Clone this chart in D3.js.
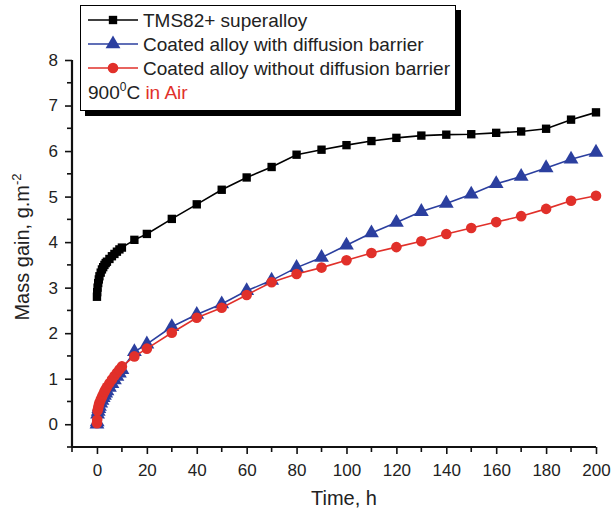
<!DOCTYPE html>
<html>
<head>
<meta charset="utf-8">
<script src="https://cdn.jsdelivr.net/npm/d3@7"></script>
<style>
  body { margin: 0; background: #fff; }
  text { font-family: "Liberation Sans", Arial, sans-serif; fill: #222; }
</style>
</head>
<body>
<div id="chart"></div>
<script>
// data
var hours = [0, 0.1, 0.25, 0.5, 0.75, 1, 1.5, 2, 2.5, 3, 3.5, 4, 5, 6, 7, 8, 9, 10, 15, 20,
             30, 40, 50, 60, 70, 80, 90, 100, 110, 120, 130, 140, 150, 160, 170, 180, 190, 200];
var superalloy = [2.80, 2.90, 3.00, 3.10, 3.18, 3.25, 3.33, 3.40, 3.45, 3.50, 3.54, 3.57, 3.63, 3.69, 3.74, 3.79, 3.84, 3.88, 4.05, 4.18,
                  4.51, 4.83, 5.15, 5.42, 5.65, 5.92, 6.03, 6.13, 6.22, 6.29, 6.34, 6.36, 6.37, 6.40, 6.43, 6.49, 6.69, 6.85];
var withBarrier = [0.00, 0.05, 0.22, 0.28, 0.34, 0.39, 0.46, 0.52, 0.58, 0.63, 0.68, 0.73, 0.81, 0.89, 0.97, 1.05, 1.12, 1.20, 1.59, 1.76,
                   2.14, 2.41, 2.64, 2.93, 3.16, 3.44, 3.66, 3.93, 4.20, 4.43, 4.67, 4.85, 5.05, 5.28, 5.44, 5.63, 5.82, 5.97];
var withoutBarrier = [0.02, 0.10, 0.30, 0.36, 0.42, 0.47, 0.54, 0.60, 0.66, 0.72, 0.77, 0.82, 0.90, 0.98, 1.06, 1.13, 1.20, 1.27, 1.49, 1.66,
                      2.01, 2.34, 2.56, 2.84, 3.12, 3.30, 3.44, 3.60, 3.76, 3.89, 4.02, 4.18, 4.31, 4.44, 4.57, 4.73, 4.91, 5.02];
var seriesNames = ["TMS82+ superalloy", "Coated alloy with diffusion barrier", "Coated alloy without diffusion barrier"];
var xTicks = [0, 20, 40, 60, 80, 100, 120, 140, 160, 180, 200];
var yTicks = [0, 1, 2, 3, 4, 5, 6, 7, 8];

var w = 612, h = 511;
var m = {top: 60, right: 16, bottom: 64, left: 72};

var svg = d3.select("#chart")
            .append("svg")
            .attr("width", w)
            .attr("height", h);

svg.append("rect").attr("width", w).attr("height", h).attr("fill", "#fff");

// scales
var xScale = d3.scaleLinear()
               .domain([-10, 200])
               .range([m.left, w - m.right]);

var yScale = d3.scaleLinear()
               .domain([-0.5, 8])
               .range([h - m.bottom, m.top]);

// minor ticks
var xMinor = d3.range(-10, 201, 10).filter(function(v){ return v % 20 !== 0; });
var yMinor = d3.range(-0.5, 8, 1);

var xAxis = d3.axisBottom(xScale).tickValues(xTicks).tickSize(7).tickPadding(10).tickFormat(d3.format("d"));
var yAxis = d3.axisLeft(yScale).tickValues(yTicks).tickSize(7).tickPadding(7).tickFormat(d3.format("d"));

var gx = svg.append("g")
   .attr("transform", "translate(0," + yScale(-0.5) + ")")
   .call(xAxis);
gx.selectAll(".tick line").attr("stroke", "#111").attr("stroke-width", 1.6);
gx.append("g").selectAll("line")
   .data(xMinor).enter().append("line")
   .attr("x1", function(d){ return xScale(d); })
   .attr("x2", function(d){ return xScale(d); })
   .attr("y1", 0).attr("y2", 5)
   .attr("stroke", "#111").attr("stroke-width", 1.6);

var gy = svg.append("g")
   .attr("transform", "translate(" + m.left + ",0)")
   .call(yAxis);
gy.selectAll(".tick line").attr("stroke", "#111").attr("stroke-width", 1.6);
gy.append("g").selectAll("line")
   .data(yMinor).enter().append("line")
   .attr("y1", function(d){ return yScale(d); })
   .attr("y2", function(d){ return yScale(d); })
   .attr("x1", 0).attr("x2", -5)
   .attr("stroke", "#111").attr("stroke-width", 1.6);

[gx, gy].forEach(function(g){
  g.select(".domain").attr("stroke", "#111").attr("stroke-width", 2.2);
  g.selectAll(".tick text").attr("font-size", 17).attr("fill", "#222")
   .style("font-family", "'Liberation Sans', Arial, sans-serif");
});
gy.select(".domain").attr("d", "M0," + yScale(-0.5) + "V" + yScale(8));
gx.select(".domain").attr("d", "M" + xScale(-10) + ",0H" + xScale(200));

// axis titles
svg.append("text")
   .attr("x", 344)
   .attr("y", 505)
   .attr("text-anchor", "middle")
   .attr("font-size", 20)
   .text("Time, h");

var yl = svg.append("text")
   .attr("transform", "translate(29,247) rotate(-90)")
   .attr("text-anchor", "middle")
   .attr("font-size", 20);
yl.append("tspan").text("Mass gain, g.m");
yl.append("tspan").attr("font-size", 13).attr("dy", -8).text("-2");

// series
var colors = ["#000000", "#2b3f9f", "#e1302a"];
var allSeries = [superalloy, withBarrier, withoutBarrier];
var shapes = [d3.symbolSquare, d3.symbolTriangle, d3.symbolCircle];
var sizes = [70, 95, 88];

var line = d3.line()
             .x(function(d){ return xScale(d[0]); })
             .y(function(d){ return yScale(d[1]); });

allSeries.forEach(function(vals, i){
  var pts = hours.map(function(t, j){ return [t, vals[j]]; });
  svg.append("path")
     .datum(pts)
     .attr("fill", "none")
     .attr("stroke", colors[i])
     .attr("stroke-width", 1.6)
     .attr("d", line);
  svg.append("g").selectAll("path")
     .data(pts).enter().append("path")
     .attr("transform", function(d){ return "translate(" + xScale(d[0]) + "," + yScale(d[1]) + ")"; })
     .attr("d", d3.symbol().type(shapes[i]).size(sizes[i]))
     .attr("fill", colors[i]);
});

// legend
var lg = svg.append("g").attr("transform", "translate(80,5)");
lg.append("rect").attr("x", 5).attr("y", 5).attr("width", 376).attr("height", 106).attr("fill", "#000");
lg.append("rect").attr("x", 0.5).attr("y", 0.5).attr("width", 375).attr("height", 105)
  .attr("fill", "#fff").attr("stroke", "#000").attr("stroke-width", 1);

seriesNames.forEach(function(name, i){
  var y = 15 + i * 24;
  lg.append("line").attr("x1", 8).attr("x2", 58).attr("y1", y).attr("y2", y)
    .attr("stroke", colors[i]).attr("stroke-width", 1.6);
  lg.append("path").attr("transform", "translate(33," + y + ")")
    .attr("d", d3.symbol().type(shapes[i]).size(sizes[i]))
    .attr("fill", colors[i]);
  lg.append("text").attr("x", 63).attr("y", y + 7).attr("font-size", 19).text(name);
});
var cond = lg.append("text").attr("x", 8).attr("y", 94).attr("font-size", 19);
cond.append("tspan").text("900");
cond.append("tspan").attr("font-size", 12).attr("dy", -8).text("0");
cond.append("tspan").attr("dy", 8).text("C ");
cond.append("tspan").attr("fill", "#e1302a").text("in Air");
</script>
</body>
</html>
